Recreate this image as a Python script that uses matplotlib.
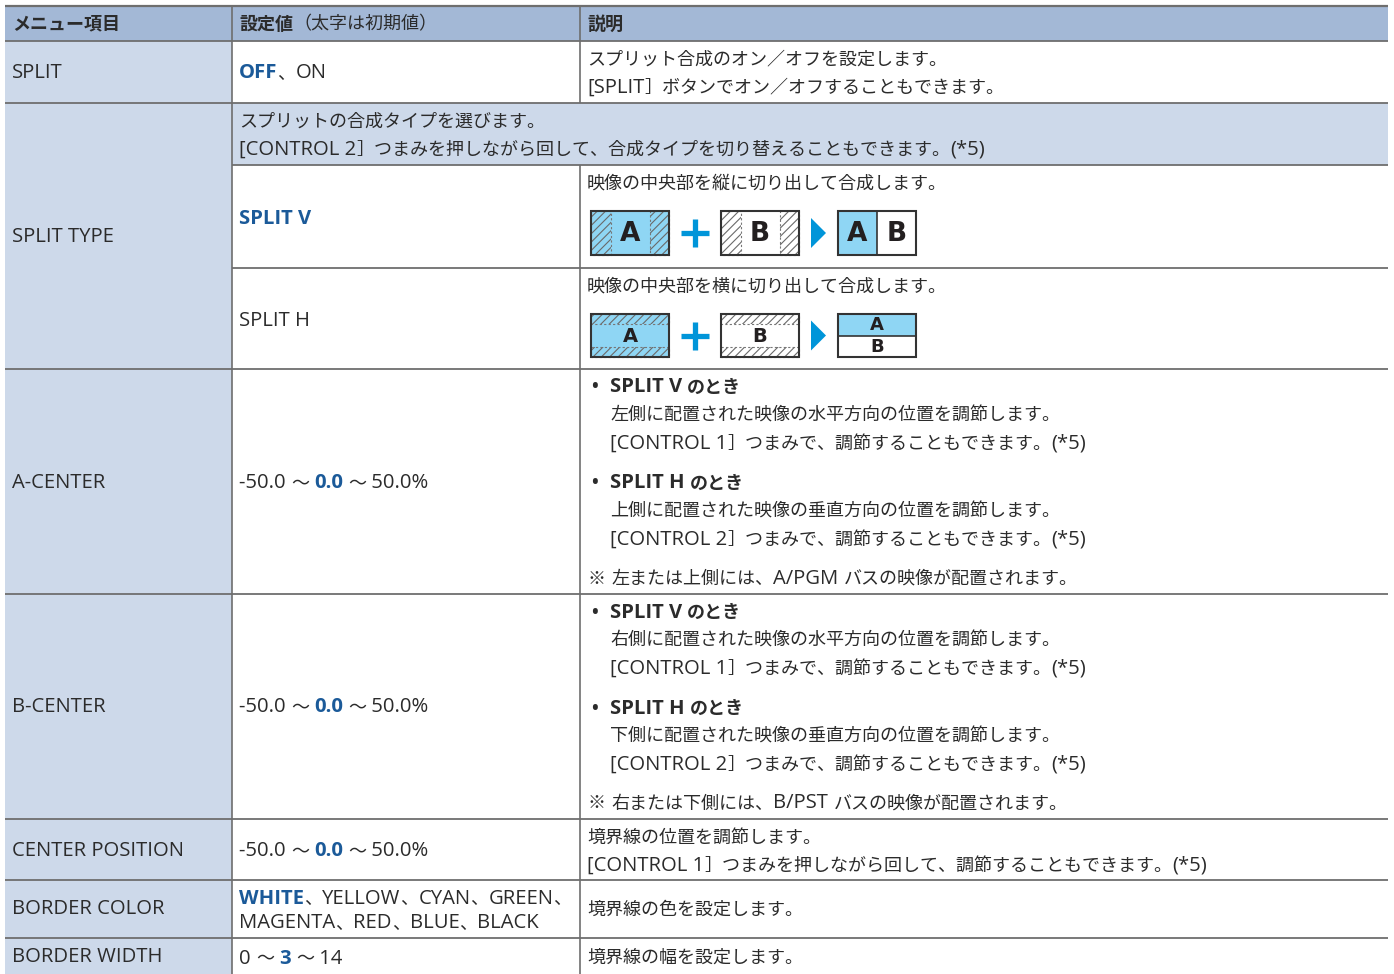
import matplotlib
matplotlib.use('Agg')
import matplotlib.pyplot as plt
from matplotlib.patches import Rectangle, Polygon

plt.rcParams['font.family'] = ['Open Sans', 'Noto Sans CJK JP', 'DejaVu Sans']
plt.rcParams['hatch.linewidth'] = 0.8

# colours
TEXT = '#2b2b2b'
BLUE = '#1b5a99'
HEAD_BG = '#a3b8d6'
LABEL_BG = '#cdd9ea'
LINE = '#6e6e6e'
CYAN = '#0095d9'
LIGHT = '#8fd6f4'

# table content
headers = ['メニュー項目', '設定値（太字は初期値）', '説明']
menu_items = ['SPLIT', 'SPLIT TYPE', 'A-CENTER', 'B-CENTER',
              'CENTER POSITION', 'BORDER COLOR', 'BORDER WIDTH']

# each value line is a list of (text, bold) runs
values = {
    'SPLIT': [[('OFF', True), ('、ON', False)]],
    'A-CENTER': [[('-50.0 ～ ', False), ('0.0', True), (' ～ 50.0%', False)]],
    'B-CENTER': [[('-50.0 ～ ', False), ('0.0', True), (' ～ 50.0%', False)]],
    'CENTER POSITION': [[('-50.0 ～ ', False), ('0.0', True), (' ～ 50.0%', False)]],
    'BORDER COLOR': [[('WHITE', True), ('、YELLOW、CYAN、GREEN、', False)],
                     [('MAGENTA、RED、BLUE、BLACK', False)]],
    'BORDER WIDTH': [[('0 ～ ', False), ('3', True), (' ～ 14', False)]],
}
split_desc = ['スプリット合成のオン／オフを設定します。',
              '[SPLIT］ボタンでオン／オフすることもできます。']
split_type_desc = ['スプリットの合成タイプを選びます。',
                   '[CONTROL 2］つまみを押しながら回して、合成タイプを切り替えることもできます。(*5)']
split_types = ['SPLIT V', 'SPLIT H']
split_type_text = ['映像の中央部を縦に切り出して合成します。',
                   '映像の中央部を横に切り出して合成します。']
a_center = [('SPLIT V のとき', ['左側に配置された映像の水平方向の位置を調節します。',
                                '[CONTROL 1］つまみで、調節することもできます。(*5)']),
            ('SPLIT H のとき', ['上側に配置された映像の垂直方向の位置を調節します。',
                                '[CONTROL 2］つまみで、調節することもできます。(*5)'])]
a_note = '※ 左または上側には、A/PGM バスの映像が配置されます。'
b_center = [('SPLIT V のとき', ['右側に配置された映像の水平方向の位置を調節します。',
                                '[CONTROL 1］つまみで、調節することもできます。(*5)']),
            ('SPLIT H のとき', ['下側に配置された映像の垂直方向の位置を調節します。',
                                '[CONTROL 2］つまみで、調節することもできます。(*5)'])]
b_note = '※ 右または下側には、B/PST バスの映像が配置されます。'
center_desc = ['境界線の位置を調節します。',
               '[CONTROL 1］つまみを押しながら回して、調節することもできます。(*5)']
color_desc = ['境界線の色を設定します。']
width_desc = ['境界線の幅を設定します。']

# layout (pixels)
W, H = 1394, 974
col_x = [5, 232, 580, 1388]
row_y = [6, 41, 103, 369, 594, 819, 880, 938, 974]
FS = 13.0      # Japanese text
FS_LAT = 14.6  # latin text (reference font has larger latin glyphs)

fig = plt.figure(figsize=(W / 100, H / 100), dpi=100)
ax = fig.add_axes([0, 0, 1, 1])
ax.set_xlim(0, W)
ax.set_ylim(H, 0)
ax.axis('off')
renderer = fig.canvas.get_renderer()


def latin(c):
    return ord(c) < 0x2000


def split_script(s):
    out = []
    for c in s:
        if out and latin(out[-1][0][-1]) == latin(c):
            out[-1][0] += c
        else:
            out.append([c])
    return [seg[0] for seg in out]


def runs(x, yc, parts, color=None):
    base = yc + FS * 0.5
    for s, bold in parts:
        for seg in split_script(s):
            size = FS_LAT if latin(seg[0]) else FS
            c = color or (BLUE if bold else TEXT)
            t = ax.text(x, base, seg, fontsize=size, color=c,
                        weight='bold' if bold else 'normal', va='baseline')
            x += t.get_window_extent(renderer).width
    return x


def line(x, yc, s, bold=False, color=None):
    return runs(x, yc, [(s, bold)], color=color or TEXT)


def hline(y, x0=col_x[0], x1=col_x[-1], lw=1.3):
    ax.plot([x0, x1], [y, y], color=LINE, lw=lw, solid_capstyle='butt')


def vline(x, y0, y1):
    ax.plot([x, x], [y0, y1], color=LINE, lw=1.2, solid_capstyle='butt')


# backgrounds
ax.add_patch(Rectangle((col_x[0], row_y[0]), col_x[-1] - col_x[0], row_y[1] - row_y[0],
                       facecolor=HEAD_BG, lw=0))
ax.add_patch(Rectangle((col_x[0], row_y[1]), col_x[1] - col_x[0], row_y[-1] - row_y[1],
                       facecolor=LABEL_BG, lw=0))
ax.add_patch(Rectangle((col_x[1], row_y[2]), col_x[-1] - col_x[1], 165 - row_y[2],
                       facecolor=LABEL_BG, lw=0))

# grid lines
for y in row_y[:-1]:
    hline(y, lw=1.6 if y == row_y[0] else 1.3)
hline(165, col_x[1])
hline(268, col_x[1])
vline(col_x[1], row_y[0], row_y[-1])
vline(col_x[2], row_y[0], row_y[2])
vline(col_x[2], 165, row_y[-1])

# header
for x, h in zip([12, 239, 587], headers):
    parts = h.split('（')
    x = line(x, 23, parts[0], bold=True)
    if len(parts) > 1:
        line(x, 23, '（' + parts[1])

# menu labels
label_y = [72, 236, 481, 706, 849, 908, 956]
for name, yc in zip(menu_items, label_y):
    line(12, yc, name)

# value column
runs(239, 72, values['SPLIT'][0])
for key, yc in [('A-CENTER', 482), ('B-CENTER', 706), ('CENTER POSITION', 850)]:
    runs(239, yc, values[key][0])
runs(239, 897, values['BORDER COLOR'][0])
runs(239, 922, values['BORDER COLOR'][1])
runs(239, 957, values['BORDER WIDTH'][0])

# description column
for s, yc in zip(split_desc, [58, 86]):
    line(587, yc, s)
for s, yc in zip(split_type_desc, [120, 148]):
    line(239, yc, s)
line(239, 217, split_types[0], bold=True, color=BLUE)
line(239, 319, split_types[1])
line(587, 182, split_type_text[0])
line(587, 285, split_type_text[1])


def bullets(items, note, y0):
    yc = y0
    for head, lines in items:
        line(591, yc, '•', bold=True)
        line(610, yc, head, bold=True)
        for i, s in enumerate(lines):
            line(610, yc + 28 * (i + 1), s)
        yc += 96
    line(588, y0 + 191, note)


bullets(a_center, a_note, 386)
bullets(b_center, b_note, 611)
for s, yc in zip(center_desc, [836, 864]):
    line(587, yc, s)
line(587, 908, color_desc[0])
line(587, 956, width_desc[0])


# split diagrams
def box(x, y, w, h, base, hatched, letter, lsize):
    ax.add_patch(Rectangle((x, y), w, h, facecolor=base, lw=0))
    for (hx, hy, hw, hh) in hatched:
        ax.add_patch(Rectangle((hx, hy), hw, hh, fill=False, hatch='////',
                               edgecolor='#6a6a6a', lw=0))
        ax.add_patch(Rectangle((hx, hy), hw, hh, fill=False, edgecolor='#777777',
                               lw=0.8, ls=(0, (2, 2))))
    ax.add_patch(Rectangle((x, y), w, h, fill=False, edgecolor='#333333', lw=1.5))
    if letter:
        ax.text(x + w / 2, y + h / 2 + 1, letter, fontsize=lsize, weight='bold',
                color='#231f20', ha='center', va='center', family='DejaVu Sans')


def plus(xc, yc):
    ax.plot([xc - 14, xc + 14], [yc, yc], color=CYAN, lw=3.8, solid_capstyle='butt')
    ax.plot([xc, xc], [yc - 14, yc + 14], color=CYAN, lw=3.8, solid_capstyle='butt')


def arrow(x, yc):
    ax.add_patch(Polygon([(x, yc - 15), (x, yc + 15), (x + 15, yc)], closed=True,
                         facecolor=CYAN, lw=0))


def letter(x, y, s, size):
    ax.text(x, y, s, fontsize=size, weight='bold', color='#231f20',
            ha='center', va='center', family='DejaVu Sans')


# vertical split
y, h, w = 211, 44, 78
box(591, y, w, h, LIGHT, [(591, y, 20, h), (650, y, 19, h)], 'A', 19)
plus(695, y + h / 2)
box(721, y, w, h, 'white', [(721, y, 20, h), (780, y, 19, h)], 'B', 19)
arrow(811, y + h / 2)
ax.add_patch(Rectangle((838, y), 39, h, facecolor=LIGHT, lw=0))
ax.plot([877, 877], [y, y + h], color='#333333', lw=1.2)
box(838, y, w, h, 'none', [], None, 0)
letter(857.5, y + h / 2 + 1, 'A', 19)
letter(896.5, y + h / 2 + 1, 'B', 19)

# horizontal split
y, h = 314, 43
box(591, y, w, h, LIGHT, [(591, y, w, 10), (591, y + 33, w, 10)], 'A', 14)
plus(695, y + h / 2)
box(721, y, w, h, 'white', [(721, y, w, 10), (721, y + 33, w, 10)], 'B', 14)
arrow(811, y + h / 2)
ax.add_patch(Rectangle((838, y), w, 22, facecolor=LIGHT, lw=0))
ax.plot([838, 916], [y + 22, y + 22], color='#333333', lw=1.2)
box(838, y, w, h, 'none', [], None, 0)
letter(877, y + 11, 'A', 13)
letter(877, y + 33, 'B', 13)

fig.savefig('out.png', dpi=100)
